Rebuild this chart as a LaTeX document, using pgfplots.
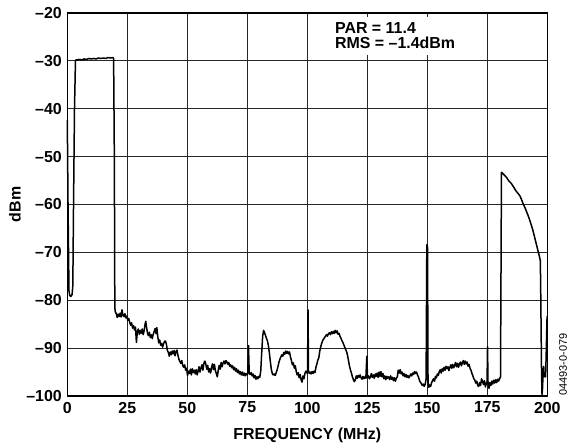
\documentclass[border=0pt]{standalone}
\usepackage{fontspec}
\setmainfont{Liberation Sans}
\usepackage{pgfplots}
\pgfplotsset{compat=1.18}
\pgfplotstableread{
f v
0 -42.3
0.3 -60
0.7 -78
1.0 -79
1.5 -79.2
2.0 -78.8
2.3 -77
2.6 -60
3.0 -40
3.4 -30.0
3.6 -29.8
4 -29.8
5 -29.7
6 -29.8
7 -29.6
8 -29.7
9 -29.5
10 -29.6
11 -29.5
12 -29.6
13 -29.4
14 -29.5
15 -29.4
16 -29.5
17 -29.3
18 -29.4
19 -29.3
19.3 -29.5
19.6 -50
19.8 -81.5
20 -82.4
20.4 -82.8
20.8 -83.6
21.2 -82.9
21.6 -83.4
22 -82.7
22.4 -83.5
22.8 -82.0
23.2 -83.2
23.6 -83.4
24 -82.8
24.4 -83.7
24.8 -83.3
25.2 -84.2
25.6 -83.8
26 -84.6
26.4 -85.2
26.8 -84.7
27.2 -85.8
27.6 -85.3
28 -86.2
28.4 -85.6
28.8 -88.8
29.2 -86.5
29.6 -86.0
30 -87.1
30.4 -86.3
30.8 -86.9
31.2 -86.0
31.6 -87.2
32 -86.4
32.4 -85.0
32.7 -84.4
33.0 -85.6
33.4 -86.8
33.8 -87.4
34.2 -86.7
34.6 -87.8
35 -87.2
35.4 -88.0
35.8 -87.1
36.2 -86.5
36.6 -85.9
37 -87.0
37.3 -85.7
37.7 -87.6
38.1 -88.9
38.5 -88.3
38.9 -89.4
39.3 -89.0
39.7 -89.8
40.1 -89.1
40.5 -88.6
40.9 -88.5
41.3 -89.2
41.7 -90.5
42.1 -90.9
42.5 -91.7
42.9 -90.8
43.3 -91.4
43.7 -90.6
44.1 -91.2
44.5 -90.5
44.9 -91.6
45.3 -90.7
45.7 -90.4
46.1 -91.5
46.5 -92.3
46.9 -92.8
47.3 -93.2
47.7 -92.6
48.1 -93.6
48.5 -94.0
48.9 -93.5
49.3 -94.6
49.7 -94.2
50.1 -95.7
50.5 -94.8
50.9 -95.3
51.3 -94.4
51.7 -95.6
52.1 -94.3
52.5 -95.1
52.9 -94.6
53.3 -95.4
53.7 -94.5
54.1 -95.6
54.5 -94.8
54.9 -93.9
55.3 -95.0
55.7 -94.1
56.1 -93.5
56.5 -94.6
56.9 -93.2
57.3 -92.7
57.7 -93.3
58.1 -94.4
58.5 -93.6
58.9 -95.0
59.3 -94.3
59.7 -95.2
60.1 -94.0
60.5 -93.3
60.9 -94.5
61.3 -93.4
61.7 -94.7
62.1 -95.3
62.5 -96.0
62.9 -94.6
63.3 -93.6
63.7 -94.4
64.1 -93.0
64.5 -93.9
64.9 -93.1
65.3 -92.7
65.7 -93.3
66.1 -92.6
66.5 -92.9
66.9 -93.4
67.3 -93.0
67.7 -93.8
68.1 -93.5
68.5 -94.1
68.9 -93.7
69.3 -94.5
69.7 -94.0
70.1 -94.8
70.5 -94.3
70.9 -95.1
71.3 -94.6
71.7 -95.4
72.1 -94.9
72.5 -95.6
72.9 -95.0
73.3 -95.7
73.7 -95.2
74.1 -95.8
74.5 -95.3
74.9 -95.6
75.2 -95.2
75.5 -89.5
75.8 -95.3
76.2 -95.5
76.6 -95.1
77.0 -95.8
77.4 -95.4
77.8 -96.2
78.2 -95.7
78.6 -96.5
79.0 -96.0
79.4 -96.4
79.8 -95.9
80.2 -96.1
80.6 -94.8
81.0 -91
81.4 -87.5
81.8 -86.3
82.2 -86.8
82.6 -87.4
83.0 -88.0
83.4 -88.5
83.8 -89.5
84.2 -91.0
84.6 -92.8
85.0 -94.4
85.4 -95.3
85.8 -95.6
86.2 -95.4
86.6 -95.7
87.0 -95.2
87.4 -94.6
87.8 -93.8
88.2 -92.9
88.6 -92.3
89.0 -91.8
89.4 -91.4
89.8 -91.7
90.2 -90.9
90.6 -91.3
91.0 -90.6
91.4 -91.1
91.8 -90.7
92.2 -91.2
92.6 -90.8
93.0 -91.9
93.4 -92.6
93.8 -93.5
94.2 -93.1
94.6 -94.2
95.0 -93.7
95.4 -94.9
95.8 -95.6
96.2 -95.1
96.6 -96.2
97.0 -95.5
97.4 -96.6
97.8 -97.1
98.2 -95.8
98.6 -96.4
99.0 -95.3
99.4 -94.8
99.8 -95.2
100.1 -94.9
100.3 -82.0
100.5 -94.7
100.8 -95.3
101.2 -95.0
101.6 -95.4
102.0 -94.9
102.4 -95.3
102.8 -94.8
103.2 -95.1
103.6 -94.0
104.0 -93.3
104.4 -92.5
104.8 -92.0
105.2 -90.6
105.6 -89.7
106.0 -89.0
106.4 -88.4
106.8 -88.1
107.2 -87.8
107.6 -87.5
108.0 -87.2
108.4 -87.5
108.8 -87.0
109.2 -86.8
109.6 -87.2
110.0 -86.6
110.4 -87.0
110.8 -86.5
111.2 -86.9
111.6 -86.3
112.0 -86.8
112.4 -86.4
112.8 -87.1
113.2 -86.9
113.6 -87.5
114.0 -87.9
114.4 -88.4
114.8 -88.8
115.2 -89.3
115.6 -89.8
116.0 -90.3
116.4 -90.8
116.8 -91.6
117.2 -92.7
117.6 -93.8
118.0 -94.6
118.4 -95.2
118.8 -96.0
119.2 -96.6
119.6 -97.0
120.0 -96.6
120.4 -95.8
120.8 -96.3
121.2 -95.7
121.6 -96.1
122.0 -95.6
122.4 -96.2
122.8 -96.5
123.2 -95.9
123.6 -96.4
124.0 -96.0
124.4 -96.3
124.8 -91.7
125.1 -96.2
125.5 -95.8
125.9 -96.4
126.3 -96.0
126.7 -95.3
127.1 -96.1
127.5 -95.6
127.9 -96.3
128.3 -95.4
128.7 -95.9
129.1 -95.2
129.5 -96.1
129.9 -95.0
130.3 -95.9
130.7 -94.9
131.1 -96.0
131.5 -95.3
131.9 -96.4
132.3 -95.8
132.7 -96.6
133.1 -95.9
133.5 -96.3
133.9 -96.0
134.3 -96.6
134.7 -95.8
135.1 -96.5
135.5 -96.1
135.9 -96.8
136.3 -96.2
136.7 -96.9
137.1 -96.3
137.5 -96.0
137.9 -94.6
138.3 -95.2
138.7 -94.5
139.1 -95.4
139.5 -95.0
139.9 -95.8
140.3 -95.3
140.7 -96.0
141.1 -95.5
141.5 -96.1
141.9 -95.7
142.3 -96.2
142.7 -95.9
143.1 -95.4
143.5 -95.8
143.9 -95.2
144.3 -95.5
144.7 -94.9
145.1 -95.3
145.5 -95.0
145.9 -95.6
146.3 -96.0
146.7 -96.7
147.1 -97.1
147.5 -97.4
147.9 -97.8
148.3 -97.5
148.7 -98.0
149.1 -97.6
149.5 -96.5
149.8 -68.4
150.1 -69
150.3 -96.8
150.6 -98.2
151.0 -97.7
151.4 -98.0
151.8 -97.2
152.2 -96.8
152.6 -96.4
153.0 -96.9
153.4 -95.9
153.8 -96.2
154.2 -95.4
154.6 -95.7
155.0 -94.9
155.4 -94.5
155.8 -95.2
156.2 -94.3
156.6 -94.8
157.0 -94.0
157.4 -94.6
157.8 -93.8
158.2 -94.3
158.6 -93.9
159.0 -94.7
159.4 -94.0
159.8 -93.5
160.2 -94.2
160.6 -93.4
161.0 -94.1
161.4 -93.6
161.8 -93.0
162.2 -93.9
162.6 -93.2
163.0 -94.0
163.4 -93.3
163.8 -92.9
164.2 -93.7
164.6 -93.1
165.0 -92.6
165.4 -93.4
165.8 -92.7
166.2 -93.3
166.6 -92.9
167.0 -93.8
167.4 -93.4
167.8 -94.2
168.2 -94.6
168.6 -95.3
169.0 -95.8
169.4 -96.4
169.8 -96.7
170.2 -97.3
170.6 -96.9
171.0 -97.8
171.4 -98.0
171.8 -97.2
172.2 -97.8
172.6 -96.4
173.0 -96.9
173.4 -97.6
173.8 -96.8
174.2 -98.1
174.6 -97.4
174.9 -97.0
175.1 -89.7
175.3 -97.3
175.7 -98.4
176.1 -97.2
176.5 -97.8
176.9 -96.9
177.3 -97.5
177.7 -96.7
178.1 -97.3
178.5 -96.6
178.9 -97.2
179.3 -96.5
179.7 -96.9
180.1 -96.4
180.5 -96.0
180.7 -75
180.9 -53.3
181.0 -53.3
182 -53.8
183.1 -54.4
184 -55.1
185 -55.6
185.9 -56.3
187 -57.2
188 -57.8
188.7 -58.3
190 -59.9
190.8 -60.8
192 -62.3
192.9 -63.6
194 -65.4
195 -67.4
195.7 -68.8
196.4 -70.2
196.8 -71.0
197.1 -71.8
197.3 -80
197.6 -95
197.8 -99.7
198.0 -98.5
198.3 -94.5
198.5 -93.8
198.7 -96
199.0 -95.2
199.3 -96.0
199.6 -90
199.9 -83.4
200 -83.4
}\spectrum
\begin{document}
\begin{tikzpicture}[x=1bp,y=1bp]
\useasboundingbox (-67.3bp,-50bp) rectangle (501.7bp,396bp);
\begin{axis}[
  at={(0,0)}, anchor=south west,
  scale only axis, width=480bp, height=383bp,
  xmin=0, xmax=200, ymin=-100, ymax=-20,
  xtick={0,25,...,200},
  ytick={-100,-90,...,-20},
  yticklabels={–100,–90,–80,–70,–60,–50,–40,–30,–20},
  grid=major,
  major grid style={black!85, line width=0.8bp},
  axis line style={line width=1.2bp},
  major tick length=0pt,
  tick label style={font=\fontsize{16}{16}\selectfont\bfseries},
  /pgf/number format/assume math mode=true,
  xticklabel style={yshift=-2.5bp},
  yticklabel style={xshift=-2bp},
  xlabel={FREQUENCY (MHz)},
  ylabel={dBm},
  label style={font=\fontsize{16}{16}\selectfont\bfseries},
  xlabel style={at={(axis description cs:0.5,-0.1123)}, anchor=base},
  ylabel style={at={(axis description cs:-0.0971,0.5)}, anchor=base},
  clip=false,
]
\addplot[black, line width=1.5bp, line join=round] table[x=f, y=v] {\spectrum};
\fill[white] (axis cs:105,-20.8) rectangle (axis cs:165,-28.8);
\node[anchor=base west, inner sep=0pt, font=\fontsize{16}{16}\selectfont\bfseries] at (axis cs:111.5,-24.2) {PAR = 11.4};
\node[anchor=base west, inner sep=0pt, font=\fontsize{16}{16}\selectfont\bfseries] at (axis cs:111.5,-27.5) {RMS = –1.4dBm};
\node[rotate=90, anchor=base west, inner sep=0pt, font=\fontsize{11}{11}\selectfont] at (axis cs:208.2,-100) {04493-0-079};
\end{axis}
\end{tikzpicture}
\end{document}
